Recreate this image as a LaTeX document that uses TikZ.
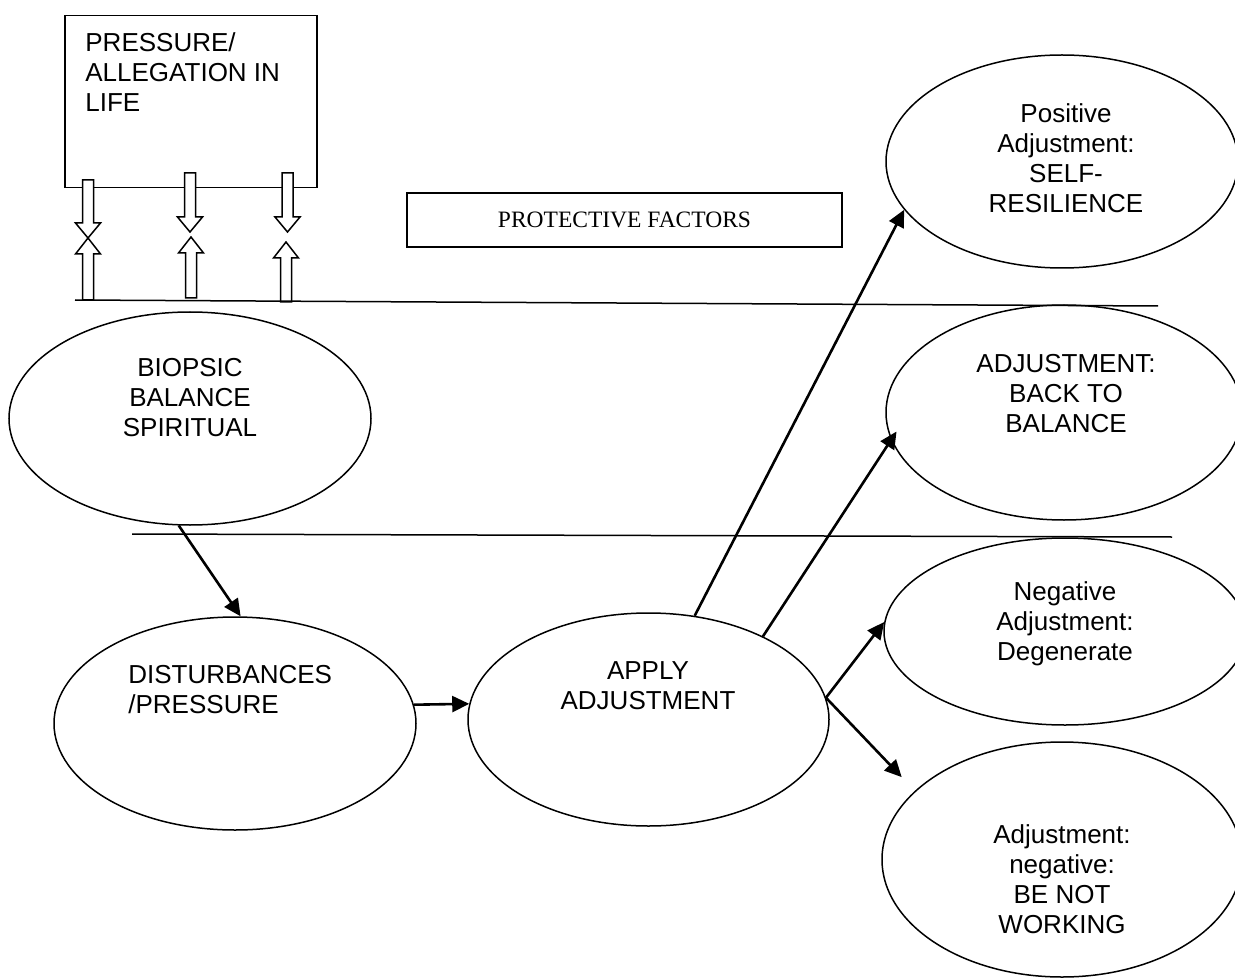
\documentclass[tikz,border=0pt]{standalone}
\usepackage{fontspec}
\setmainfont{Liberation Sans}
\newfontfamily\timesf{Liberation Serif}
\usetikzlibrary{arrows.meta,shapes.geometric}

\begin{document}
\begin{tikzpicture}[x=0.5pt,y=-0.5pt,
  outl/.style={draw=black,line width=0.75pt},
  oval/.style={outl,ellipse,inner sep=0pt},
  lbl/.style={font=\fontsize{13}{15}\selectfont,inner sep=0pt,align=center,anchor=north},
  conn/.style={line width=1.3pt,-{Triangle[length=8.5pt,width=8pt]}},
  hollow/.style={draw=black,fill=white,line width=0.75pt,line join=miter},
  hline/.style={line width=0.75pt},
  hdown/.pic={\draw[hollow] (0,0) -- (-12.5,-15) -- (-5.5,-15) -- (-5.5,-#1) -- (5.5,-#1) -- (5.5,-15) -- (12.5,-15) -- cycle;},
  hup/.pic={\draw[hollow] (0,0) -- (-12.5,16) -- (-5.5,16) -- (-5.5,#1) -- (5.5,#1) -- (5.5,16) -- (12.5,16) -- cycle;}
]
\useasboundingbox (0,0) rectangle (1235,978);

% top-left box
\node[outl,minimum width=126pt,minimum height=86pt,inner sep=0pt,anchor=north west] (lifebox) at (64,15) {};
\node[lbl,align=left,anchor=north west] (lifetext) at (85,32) {PRESSURE/\\ALLEGATION IN\\LIFE};

% hollow arrows
\pic at (88,238) {hdown=58};
\pic at (88,238) {hup=62};
\pic at (190,232) {hdown=59};
\pic at (191,237) {hup=61};
\pic at (287.5,232) {hdown=59};
\pic at (286,242) {hup=60};

% protective factors
\node[outl,minimum width=217.5pt,minimum height=27pt,inner sep=0pt,font=\timesf\fontsize{11.75}{14}\selectfont] (prot) at (624.5,220) {PROTECTIVE FACTORS};

% horizontal lines
\coordinate (l1a) at (75,300);
\coordinate (l1b) at (1158,306);
\draw[hline] (l1a) -- (l1b);
\coordinate (l2a) at (132,534);
\coordinate (l2b) at (1172,537);
\draw[hline] (l2a) -- (l2b);

% ellipses
\node[oval,minimum width=181pt,minimum height=106.5pt] (bio) at (190,418.5) {};
\node[oval,minimum width=181pt,minimum height=106.5pt] (dist) at (235,723.5) {};
\node[oval,minimum width=180.5pt,minimum height=106.5pt] (apply) at (648.5,719.5) {};
\node[oval,minimum width=176pt,minimum height=106.5pt] (pos) at (1062,161.5) {};
\node[oval,minimum width=178pt,minimum height=107.5pt] (btb) at (1064,412.5) {};
\node[oval,minimum width=181pt,minimum height=93.5pt] (degen) at (1065,631.5) {};
\node[oval,minimum width=180pt,minimum height=117.5pt] (nw) at (1062,859.5) {};

% ellipse texts
\node[lbl] (biotext) at (190,358) {BIOPSIC\\BALANCE\\SPIRITUAL};
\node[lbl,align=left,anchor=north west] (disttext) at (128,665) {DISTURBANCES\\/PRESSURE};
\node[lbl] (applytext) at (648,661) {APPLY\\ADJUSTMENT};
\node[lbl] (postext) at (1066,103) {Positive\\Adjustment:\\SELF-\\RESILIENCE};
\node[lbl] (btbtext) at (1066,354) {ADJUSTMENT:\\BACK TO\\BALANCE};
\node[lbl] (degentext) at (1065,581) {Negative\\Adjustment:\\Degenerate};
\node[lbl] (nwtext) at (1062,824) {Adjustment:\\negative:\\BE NOT\\WORKING};

% connectors
\draw[conn] (bio.264) -- (dist.87);
\draw[conn] (dist.6) -- (apply.175);
\draw[conn] (apply.66) -- (pos.197);
\draw[conn,shorten >=-5pt] (apply.36) -- (btb.189);
\draw[conn] (apply.7) -- (degen.177);
\draw[conn,shorten >=9.5pt] (apply.7) -- (nw.155);
\end{tikzpicture}
\end{document}
